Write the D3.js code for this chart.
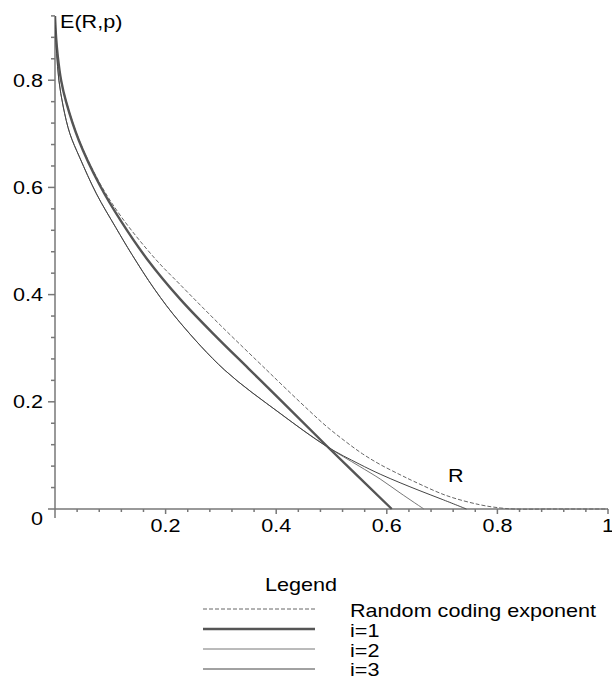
<!DOCTYPE html>
<html>
<head>
<meta charset="utf-8">
<script src="https://cdn.jsdelivr.net/npm/d3@7"></script>
<style>
  html, body { margin: 0; padding: 0; background: #fff; }
  svg { display: block; }
  text { font-family: "Liberation Sans", Arial, sans-serif; font-size: 18px; fill: #000; }
</style>
</head>
<body>
<div id="chart"></div>
<script>
// values
const randomR = [0, 0.002, 0.005, 0.011, 0.02, 0.043, 0.081, 0.12, 0.181, 0.226, 0.30, 0.382, 0.407, 0.458, 0.49, 0.524, 0.556, 0.588, 0.624, 0.648, 0.708, 0.768, 0.805, 0.83, 0.9, 1.0];
const randomE = [0.92, 0.88, 0.845, 0.80, 0.762, 0.69, 0.608, 0.545, 0.467, 0.419, 0.342, 0.26, 0.235, 0.185, 0.155, 0.127, 0.103, 0.083, 0.064, 0.052, 0.025, 0.008, 0.002, 0, 0, 0];

const i1R = [0, 0.002, 0.005, 0.011, 0.02, 0.043, 0.081, 0.12, 0.166, 0.226, 0.29, 0.35, 0.407, 0.491, 0.609];
const i1E = [0.92, 0.88, 0.845, 0.80, 0.76, 0.688, 0.604, 0.536, 0.467, 0.392, 0.323, 0.262, 0.204, 0.118, 0];

const i2R = [0, 0.001, 0.003, 0.007, 0.015, 0.027, 0.045, 0.075, 0.11, 0.139, 0.18, 0.226, 0.307, 0.407, 0.491, 0.55, 0.588, 0.624, 0.667];
const i2E = [0.92, 0.89, 0.85, 0.80, 0.75, 0.70, 0.655, 0.588, 0.525, 0.475, 0.41, 0.348, 0.259, 0.1785, 0.117, 0.080, 0.056, 0.030, 0];

const i3R = [0, 0.001, 0.003, 0.007, 0.015, 0.027, 0.045, 0.075, 0.11, 0.139, 0.18, 0.226, 0.307, 0.407, 0.491, 0.55, 0.588, 0.624, 0.66, 0.70, 0.744];
const i3E = [0.92, 0.89, 0.85, 0.80, 0.75, 0.70, 0.655, 0.588, 0.525, 0.475, 0.41, 0.348, 0.259, 0.1785, 0.117, 0.084, 0.065, 0.049, 0.034, 0.018, 0];

const xTickVals = [0.2, 0.4, 0.6, 0.8, 1];
const xTickLabels = ['0.2', '0.4', '0.6', '0.8', '1'];
const yTickVals = [0.2, 0.4, 0.6, 0.8];
const yTickLabels = ['0.2', '0.4', '0.6', '0.8'];

const legendNames = ['Random coding exponent', 'i=1', 'i=2', 'i=3'];

const W = 612, H = 680;
const svg = d3.select('#chart').append('svg').attr('width', W).attr('height', H);

const x = d3.scaleLinear().domain([0, 1]).range([55, 608]);
const y = d3.scaleLinear().domain([0, 0.92]).range([509, 15.9]);

// text in the picture is stretched sideways
const SX = 1.2;
function label(txt, px, py, anchor) {
  return svg.append('text')
    .attr('transform', `translate(${px},${py}) scale(${SX},1)`)
    .attr('text-anchor', anchor || 'start')
    .text(txt);
}

const series = [
  { R: randomR, E: randomE, stroke: '#666', width: 1, dash: '4,2' },
  { R: i1R, E: i1E, stroke: '#555', width: 2.4, dash: null },
  { R: i2R, E: i2E, stroke: '#777', width: 1, dash: null },
  { R: i3R, E: i3E, stroke: '#444', width: 1, dash: null }
];

svg.append('clipPath').attr('id', 'plotclip')
  .append('rect').attr('x', 55).attr('y', y(0.92)).attr('width', 560).attr('height', 509 - y(0.92) + 2);

const line = d3.line().x(d => x(d[0])).y(d => y(d[1])).curve(d3.curveCatmullRom.alpha(0.5));

// axes
const axis = svg.append('g').attr('stroke', '#777').attr('stroke-width', 1.5);
axis.append('line').attr('x1', x(0)).attr('x2', x(1)).attr('y1', y(0)).attr('y2', y(0));
axis.append('line').attr('x1', x(0)).attr('x2', x(0)).attr('y1', y(0)).attr('y2', y(0.92));

d3.range(0, 1.0001, 0.04).forEach((v, k) => {
  const major = k % 5 === 0;
  axis.append('line').attr('x1', x(v)).attr('x2', x(v))
    .attr('y1', y(0)).attr('y2', y(0) + (major ? (k === 0 ? 9 : 5) : 3));
});
d3.range(0, 0.9201, 0.04).forEach((v, k) => {
  const major = k % 5 === 0;
  axis.append('line').attr('y1', y(v)).attr('y2', y(v))
    .attr('x1', x(0)).attr('x2', x(0) - (major ? 7 : 4));
});

// curves
const curves = svg.append('g').attr('clip-path', 'url(#plotclip)').attr('fill', 'none');
series.forEach(s => {
  curves.append('path')
    .datum(d3.zip(s.R, s.E))
    .attr('d', line)
    .attr('stroke', s.stroke)
    .attr('stroke-width', s.width)
    .attr('stroke-dasharray', s.dash);
});

// tick labels
xTickVals.forEach((v, k) => label(xTickLabels[k], x(v), 532, 'middle'));
yTickVals.forEach((v, k) => label(yTickLabels[k], 43, y(v) + 6.5, 'end'));
label('0', 43, 525, 'end');

// axis titles
label('E(R,p)', 60, 28);
label('R', 448, 482);

// legend
label('Legend', 265, 591);
const rowLine = [609, 629, 649, 669];
const rowText = [617, 637, 657, 676];
series.forEach((s, k) => {
  svg.append('line')
    .attr('x1', 203).attr('x2', 315).attr('y1', rowLine[k]).attr('y2', rowLine[k])
    .attr('stroke', s.stroke).attr('stroke-width', s.width)
    .attr('stroke-dasharray', s.dash);
  label(legendNames[k], 350, rowText[k]);
});
</script>
</body>
</html>
